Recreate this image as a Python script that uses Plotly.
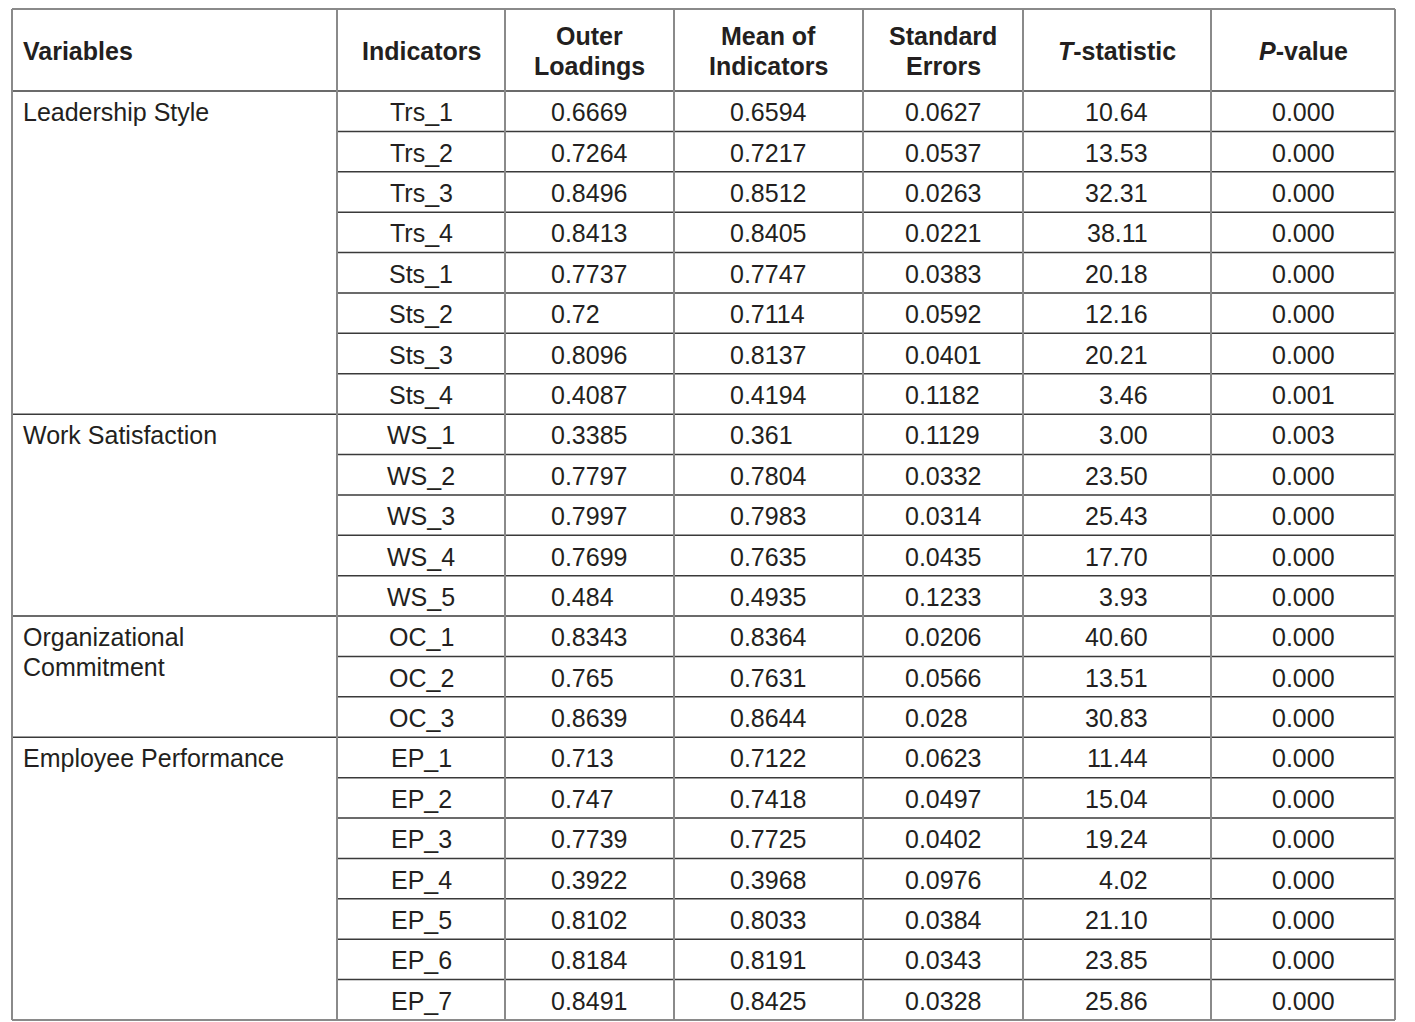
import plotly.graph_objects as go

# ---------------- data ----------------
headers = ["<b>Variables</b>", "<b>Indicators</b>", "<b>Outer<br>Loadings</b>",
           "<b>Mean of<br>Indicators</b>", "<b>Standard<br>Errors</b>",
           "<b><i>T</i>-statistic</b>", "<b><i>P</i>-value</b>"]
variables = ["Leadership Style", "Work Satisfaction", "Organizational<br>Commitment",
             "Employee Performance"]
group_sizes = [8, 5, 3, 7]
indicators = ["Trs_1", "Trs_2", "Trs_3", "Trs_4", "Sts_1", "Sts_2", "Sts_3", "Sts_4",
              "WS_1", "WS_2", "WS_3", "WS_4", "WS_5",
              "OC_1", "OC_2", "OC_3",
              "EP_1", "EP_2", "EP_3", "EP_4", "EP_5", "EP_6", "EP_7"]
outer_loadings = ["0.6669", "0.7264", "0.8496", "0.8413", "0.7737", "0.72", "0.8096", "0.4087",
                  "0.3385", "0.7797", "0.7997", "0.7699", "0.484",
                  "0.8343", "0.765", "0.8639",
                  "0.713", "0.747", "0.7739", "0.3922", "0.8102", "0.8184", "0.8491"]
mean_indicators = ["0.6594", "0.7217", "0.8512", "0.8405", "0.7747", "0.7114", "0.8137", "0.4194",
                   "0.361", "0.7804", "0.7983", "0.7635", "0.4935",
                   "0.8364", "0.7631", "0.8644",
                   "0.7122", "0.7418", "0.7725", "0.3968", "0.8033", "0.8191", "0.8425"]
std_errors = ["0.0627", "0.0537", "0.0263", "0.0221", "0.0383", "0.0592", "0.0401", "0.1182",
              "0.1129", "0.0332", "0.0314", "0.0435", "0.1233",
              "0.0206", "0.0566", "0.028",
              "0.0623", "0.0497", "0.0402", "0.0976", "0.0384", "0.0343", "0.0328"]
t_stats = ["10.64", "13.53", "32.31", "38.11", "20.18", "12.16", "20.21", "3.46",
           "3.00", "23.50", "25.43", "17.70", "3.93",
           "40.60", "13.51", "30.83",
           "11.44", "15.04", "19.24", "4.02", "21.10", "23.85", "25.86"]
p_values = ["0.000", "0.000", "0.000", "0.000", "0.000", "0.000", "0.000", "0.001",
            "0.003", "0.000", "0.000", "0.000", "0.000",
            "0.000", "0.000", "0.000",
            "0.000", "0.000", "0.000", "0.000", "0.000", "0.000", "0.000"]

# ---------------- layout config ----------------
W, H = 1415, 1022
col_edges = [12, 337, 505, 674, 863, 1023, 1211, 1395]
top, header_bottom, bottom = 9, 91, 1020
n_rows = len(indicators)
row_h = (bottom - header_bottom) / n_rows
LINE_GAP = 30
FONT = "Liberation Sans, Arial, sans-serif"
FS = 25
TXT = "#231f20"
HLINE = "#3a3a3a"
VLINE = "#8a8a8a"

fig = go.Figure()
fig.add_trace(go.Scatter(x=[0, W], y=[0, H], mode="markers",
                         marker=dict(opacity=0), hoverinfo="skip", showlegend=False))

shapes = []
annotations = []

def hline(x0, x1, y, color=HLINE, w=1.5):
    shapes.append(dict(type="line", x0=x0, x1=x1, y0=y, y1=y, xref="x", yref="y",
                       line=dict(color=color, width=w)))

def vline(x, y0, y1, color=VLINE, w=2):
    shapes.append(dict(type="line", x0=x, x1=x, y0=y0, y1=y1, xref="x", yref="y",
                       line=dict(color=color, width=w)))

def text(x, y, s, anchor="center"):
    annotations.append(dict(x=x, y=y, xref="x", yref="y", text=s, showarrow=False,
                            xanchor=anchor, yanchor="middle",
                            font=dict(family=FONT, size=FS, color=TXT)))

def multiline(x, y_first, s, anchor="center", bold=False):
    parts = s.replace("<b>", "").replace("</b>", "").split("<br>")
    for k, p in enumerate(parts):
        text(x, y_first + k * LINE_GAP, f"<b>{p}</b>" if bold else p, anchor)

# headers
header_mid = (top + header_bottom) / 2
for i, h in enumerate(headers):
    x = col_edges[0] + 9 if i == 0 else (col_edges[i] + col_edges[i + 1]) / 2
    anchor = "left" if i == 0 else "center"
    n_lines = h.count("<br>") + 1
    y0 = header_mid + 1 - (n_lines - 1) * LINE_GAP / 2
    multiline(x, y0, h, anchor, bold=True)

# horizontal lines
hline(col_edges[0], col_edges[-1], top, color=VLINE, w=2)
hline(col_edges[0], col_edges[-1], header_bottom, color=HLINE)
group_ends = []
acc = 0
for g in group_sizes:
    acc += g
    group_ends.append(acc)
for r in range(1, n_rows + 1):
    y = header_bottom + r * row_h
    if r == n_rows:
        hline(col_edges[0], col_edges[-1], y, color=VLINE, w=2)
    elif r in group_ends:
        hline(col_edges[0], col_edges[-1], y)
    else:
        hline(col_edges[1], col_edges[-1], y)

# vertical lines
for x in col_edges:
    vline(x, top, bottom)

# variables (merged cells, top aligned)
start = 0
for v, g in zip(variables, group_sizes):
    y = header_bottom + (start + 0.5) * row_h + 1
    multiline(col_edges[0] + 9, y, v, anchor="left")
    start += g

# data cells
for r in range(n_rows):
    y = header_bottom + (r + 0.5) * row_h + 1
    text((col_edges[1] + col_edges[2]) / 2, y, indicators[r])
    text(549, y, outer_loadings[r], anchor="left")
    text(728, y, mean_indicators[r], anchor="left")
    text(903, y, std_errors[r], anchor="left")
    text(1150, y, t_stats[r], anchor="right")
    text((col_edges[6] + col_edges[7]) / 2, y, p_values[r])

fig.update_layout(
    width=W, height=H, margin=dict(l=0, r=0, t=0, b=0),
    paper_bgcolor="white", plot_bgcolor="white",
    xaxis=dict(range=[0, W], visible=False, fixedrange=True),
    yaxis=dict(range=[H, 0], visible=False, fixedrange=True),
    shapes=shapes, annotations=annotations, showlegend=False,
)
fig.write_html("out.html", config={"displayModeBar": False},
               post_script="document.body.style.margin='0';document.body.style.overflow='hidden';")
